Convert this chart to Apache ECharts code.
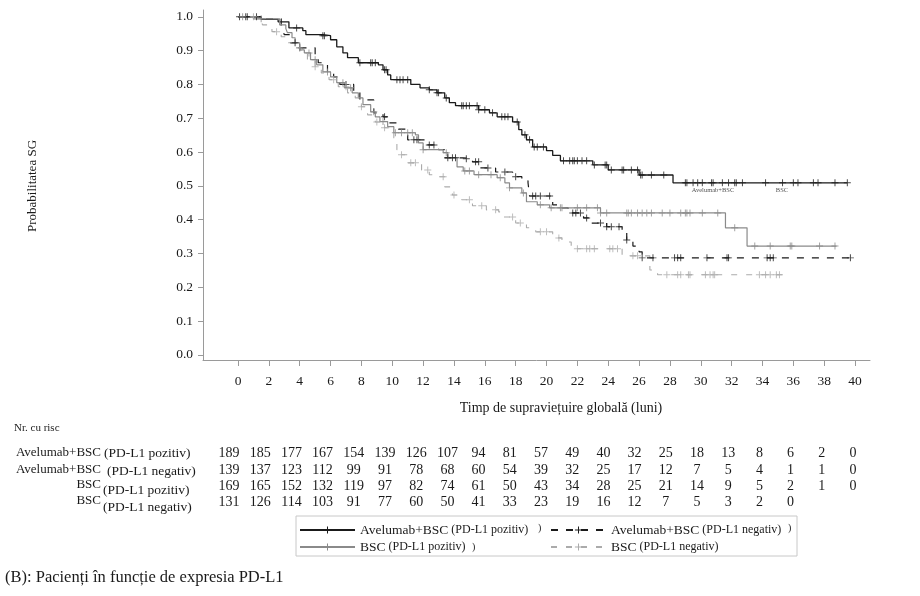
<!DOCTYPE html>
<html>
<head>
<meta charset="utf-8">
<title>SG PD-L1</title>
<script src="https://cdn.jsdelivr.net/npm/echarts@6/dist/echarts.min.js"></script>
<style>
  html, body { margin: 0; padding: 0; background: #fff; }
  #chart { width: 920px; height: 596px; }
</style>
</head>
<body>
<div id="chart"></div>
<script>
// curbe Kaplan-Meier: [luni, probabilitate]
var avelPoz = [[0, 1.0], [1.5, 0.992], [2.6, 0.985], [3.3, 0.967], [4.2, 0.959], [4.4, 0.947], [5.5, 0.944], [6.0, 0.932],
  [6.4, 0.911], [6.8, 0.893], [7.1, 0.879], [7.8, 0.864], [9.1, 0.858], [9.4, 0.843], [9.7, 0.828], [9.9, 0.814],
  [11.2, 0.80], [11.8, 0.79], [12.4, 0.784], [12.9, 0.775], [13.4, 0.76], [13.7, 0.746], [14.1, 0.737], [15.6, 0.725],
  [16.3, 0.716], [16.8, 0.704], [17.8, 0.689], [18.2, 0.666], [18.4, 0.651], [18.7, 0.636], [19.1, 0.615], [20.0, 0.604],
  [20.4, 0.59], [20.9, 0.574], [23.0, 0.562], [24.0, 0.547], [26.0, 0.532], [28.2, 0.509], [39.5, 0.509]];
var avelNeg = [[0, 1.0], [1.5, 0.994], [2.8, 0.975], [2.9, 0.96], [3.0, 0.947], [3.4, 0.923], [3.8, 0.908], [5.0, 0.879],
  [5.2, 0.864], [5.8, 0.837], [6.2, 0.822], [6.6, 0.80], [7.5, 0.778], [7.9, 0.754], [8.8, 0.716], [9.4, 0.704],
  [9.7, 0.686], [10.4, 0.668], [11.0, 0.636], [12.3, 0.621], [13.0, 0.607], [13.4, 0.583], [14.6, 0.58], [15.2, 0.571],
  [15.7, 0.553], [16.7, 0.541], [17.8, 0.527], [18.4, 0.515], [18.8, 0.509], [18.9, 0.47], [20.4, 0.444], [20.8, 0.435],
  [21.4, 0.42], [22.4, 0.405], [22.8, 0.39], [23.9, 0.379], [24.9, 0.361], [25.2, 0.34], [25.6, 0.322], [26.0, 0.305],
  [26.2, 0.287], [39.7, 0.287]];
var bscPoz = [[0, 1.0], [1.0, 0.994], [2.7, 0.976], [3.1, 0.965], [3.2, 0.953], [3.5, 0.938], [3.7, 0.923], [4.0, 0.902],
  [4.3, 0.893], [4.7, 0.873], [5.1, 0.858], [5.5, 0.837], [6.0, 0.822], [6.4, 0.805], [6.9, 0.79], [7.4, 0.775],
  [7.8, 0.76], [8.1, 0.74], [8.6, 0.719], [8.9, 0.704], [9.2, 0.69], [9.7, 0.675], [10.1, 0.657], [11.5, 0.651],
  [11.7, 0.627], [12.0, 0.607], [13.3, 0.598], [13.6, 0.583], [14.2, 0.556], [14.6, 0.544], [15.3, 0.533], [16.8, 0.524],
  [17.3, 0.509], [17.6, 0.494], [18.4, 0.479], [18.7, 0.453], [19.4, 0.444], [20.2, 0.435], [23.5, 0.42], [31.6, 0.376],
  [33.0, 0.322], [38.8, 0.322]];
var bscNeg = [[0, 1.0], [1.5, 0.985], [1.6, 0.976], [2.2, 0.956], [2.8, 0.941], [3.2, 0.923], [3.7, 0.908], [4.1, 0.893],
  [4.5, 0.873], [5.0, 0.852], [5.4, 0.834], [5.9, 0.814], [6.5, 0.793], [7.1, 0.775], [7.6, 0.76], [8.0, 0.734],
  [8.4, 0.71], [8.9, 0.689], [9.5, 0.672], [10.1, 0.642], [10.3, 0.607], [10.5, 0.592], [11.0, 0.568], [11.9, 0.547],
  [12.4, 0.533], [12.8, 0.527], [13.4, 0.497], [13.9, 0.473], [14.5, 0.459], [15.2, 0.441], [16.1, 0.429], [16.9, 0.423],
  [17.2, 0.408], [18.0, 0.39], [18.7, 0.376], [19.3, 0.364], [20.4, 0.346], [21.0, 0.334], [21.6, 0.314], [24.9, 0.293],
  [26.7, 0.251], [27.2, 0.237], [35.3, 0.237]];

// momente cenzurate (luni)
var cenzAvelPoz = [0.1, 0.6, 3.8, 5.5, 5.6, 7.9, 8.6, 8.7, 8.9, 9.5, 9.6, 10.3, 10.5, 10.7, 11.0, 12.4, 12.9, 13.0, 13.5,
  14.5, 14.6, 14.8, 15.0, 15.5, 15.6, 16.0, 16.5, 17.1, 17.3, 17.5, 18.1, 18.6, 18.9, 19.2, 19.4, 19.8, 21.1, 21.5, 21.7,
  21.8, 22.0, 22.3, 22.6, 23.1, 23.8, 23.9, 24.2, 24.9, 25.0, 25.5, 25.9, 26.1, 26.2, 26.8, 27.6, 29.0, 29.1, 29.5, 29.8,
  30.1, 30.7, 30.8, 31.4, 31.8, 32.2, 32.3, 32.7, 34.2, 35.3, 36.0, 36.3, 37.3, 37.6, 38.7, 39.5];
var cenzAvelNeg = [0.5, 1.2, 3.7, 4.0, 7.0, 9.5, 11.4, 11.6, 12.4, 12.7, 13.6, 13.9, 14.1, 14.8, 15.4, 15.6, 16.2, 17.3,
  18.0, 19.1, 19.3, 19.6, 20.2, 21.7, 21.9, 22.2, 22.6, 23.5, 23.9, 24.2, 24.7, 25.2, 26.2, 26.9, 28.3, 28.5, 28.7, 30.4,
  31.7, 31.8, 34.3, 34.5, 34.7, 39.7];
var cenzBscPoz = [0.3, 1.5, 4.6, 5.0, 5.8, 6.8, 7.3, 8.8, 9.4, 10.2, 10.6, 11.0, 11.3, 12.0, 13.5, 14.7, 15.0, 15.6, 16.4,
  17.0, 17.6, 18.5, 19.6, 20.3, 20.9, 21.0, 22.0, 22.6, 23.3, 23.5, 23.9, 25.2, 25.3, 25.5, 25.9, 26.2, 26.5, 26.8, 27.5,
  28.0, 28.7, 29.0, 29.1, 29.3, 30.1, 31.1, 32.2, 33.5, 34.5, 35.8, 35.9, 37.7, 38.7];
var cenzBscNeg = [1.0, 2.5, 4.0, 5.0, 6.2, 7.0, 8.0, 9.0, 9.5, 10.6, 11.2, 11.5, 12.3, 13.3, 14.0, 15.0, 15.8, 16.7, 17.8,
  18.3, 19.6, 20.0, 20.8, 22.0, 22.6, 22.8, 23.1, 24.1, 24.3, 24.6, 25.6, 25.9, 27.8, 28.5, 28.7, 29.2, 29.3, 30.3, 30.6,
  30.8, 30.9, 33.8, 34.2, 34.5, 34.9, 35.1];

var xTicks = [0, 2, 4, 6, 8, 10, 12, 14, 16, 18, 20, 22, 24, 26, 28, 30, 32, 34, 36, 38, 40];
var yTicks = [0.0, 0.1, 0.2, 0.3, 0.4, 0.5, 0.6, 0.7, 0.8, 0.9, 1.0];

var numeSerii = ['Avelumab+BSC (PD-L1 pozitiv)', 'Avelumab+BSC (PD-L1 negativ)', 'BSC (PD-L1 pozitiv)', 'BSC (PD-L1 negativ)'];

// Nr. cu risc
var riscAvelPoz = [189, 185, 177, 167, 154, 139, 126, 107, 94, 81, 57, 49, 40, 32, 25, 18, 13, 8, 6, 2, 0];
var riscAvelNeg = [139, 137, 123, 112, 99, 91, 78, 68, 60, 54, 39, 32, 25, 17, 12, 7, 5, 4, 1, 1, 0];
var riscBscPoz = [169, 165, 152, 132, 119, 97, 82, 74, 61, 50, 43, 34, 28, 25, 21, 14, 9, 5, 2, 1, 0];
var riscBscNeg = [131, 126, 114, 103, 91, 77, 60, 50, 41, 33, 23, 19, 16, 12, 7, 5, 3, 2, 0];

var FONT = "'Liberation Serif', 'DejaVu Serif', serif";
var TXT = '#1a1a1a';
var PLUS = 'path://M4.3,0H5.7V10H4.3ZM0,4.3H10V5.7H0Z';

function valoareLa(curba, t) {
  var v = curba[0][1];
  for (var i = 0; i < curba.length; i++) {
    if (curba[i][0] <= t) v = curba[i][1];
  }
  return v;
}

function cenzuri(curba, timpi) {
  return timpi.map(function (t) { return [t, valoareLa(curba, t)]; });
}

function linie(nume, curba, culoare, latime, tip) {
  return {
    name: nume, type: 'line', step: 'end', data: curba,
    symbol: PLUS, symbolSize: 8, showSymbol: false,
    itemStyle: {color: culoare},
    lineStyle: {color: culoare, width: latime, type: tip},
    silent: true, z: 2
  };
}

function marcaje(curba, timpi, culoare) {
  return {
    type: 'scatter', data: cenzuri(curba, timpi),
    symbol: PLUS, symbolSize: 7,
    itemStyle: {color: culoare}, silent: true, z: 3
  };
}

var graphics = [];
function text(x, y, s, size, align, extra) {
  var st = {x: x, y: y, text: s, fontSize: size, fontFamily: FONT, fill: TXT, align: align || 'left', verticalAlign: 'middle'};
  if (extra) for (var k in extra) st[k] = extra[k];
  graphics.push({type: 'text', style: st, silent: true});
}

// titluri axe
graphics.push({type: 'text', x: 33, y: 186, rotation: Math.PI / 2,
  style: {text: 'Probabilitatea SG', fontSize: 13, fontFamily: FONT, fill: TXT, align: 'center', verticalAlign: 'middle'}});
text(561, 408, 'Timp de supraviețuire globală (luni)', 14, 'center');
// etichete mici ramase pe grafic
text(713, 190, 'Avelumab+BSC', 6.5, 'center', {fill: '#555'});
text(782, 190, 'BSC', 6.5, 'center', {fill: '#555'});

// tabel Nr. cu risc
text(14, 428, 'Nr. cu risc', 11, 'left');
var randuri = [
  {a: 'Avelumab+BSC', b: '(PD-L1 pozitiv)', ya: 453, yb: 453, xa: 101, xb: 104, v: riscAvelPoz, y: 453},
  {a: 'Avelumab+BSC', b: '(PD-L1 negativ)', ya: 470, yb: 471, xa: 101, xb: 107, v: riscAvelNeg, y: 470},
  {a: 'BSC', b: '(PD-L1 pozitiv)', ya: 485, yb: 490, xa: 101, xb: 103, v: riscBscPoz, y: 486},
  {a: 'BSC', b: '(PD-L1 negativ)', ya: 501, yb: 507, xa: 101, xb: 103, v: riscBscNeg, y: 502}
];
randuri.forEach(function (r) {
  text(r.xa, r.ya, r.a, 13, 'right');
  text(r.xb, r.yb, r.b, 13.5, 'left');
  r.v.forEach(function (n, i) {
    text(229 + i * 31.2, r.y, String(n), 14, 'center');
  });
});

// chenar legenda
graphics.push({type: 'rect', shape: {x: 296, y: 516, width: 501, height: 40},
  style: {fill: 'none', stroke: '#c8c8c8', lineWidth: 1}, silent: true});
text(538, 528, ')', 10, 'left');
text(788, 528, ')', 10, 'left');
text(472, 547, ')', 10, 'left');

// titlu figura
text(5, 578, '(B): Pacienți în funcție de expresia PD-L1', 16.5, 'left');

function formatLegenda(name) {
  var i = name.indexOf(' (');
  return '{a|' + name.substring(0, i) + '} {b|' + name.substring(i + 1) + '}';
}
var legendaText = {
  color: TXT, fontFamily: FONT,
  rich: {
    a: {fontSize: 13.5, fontFamily: FONT, color: TXT},
    b: {fontSize: 12, fontFamily: FONT, color: TXT}
  }
};

var option = {
  animation: false,
  backgroundColor: '#fff',
  grid: {left: 203, top: 10, width: 667, height: 350},
  legend: [
    {data: [numeSerii[0], numeSerii[2]], orient: 'vertical', left: 294, top: 518, itemWidth: 55, itemHeight: 9, itemGap: 3,
      selectedMode: false, formatter: formatLegenda, textStyle: legendaText},
    {data: [numeSerii[1], numeSerii[3]], orient: 'vertical', left: 545, top: 518, itemWidth: 55, itemHeight: 9, itemGap: 3,
      selectedMode: false, formatter: formatLegenda, textStyle: legendaText}
  ],
  xAxis: {
    type: 'value', min: -2.27, max: 40.97,
    axisLine: {show: true, onZero: false, lineStyle: {color: '#9a9a9a', width: 1}},
    axisTick: {show: true, customValues: xTicks, length: 6, lineStyle: {color: '#9a9a9a'}},
    axisLabel: {customValues: xTicks, margin: 14, fontSize: 13.5, fontFamily: FONT, color: TXT},
    splitLine: {show: false}
  },
  yAxis: {
    type: 'value', min: -0.015, max: 1.02,
    axisLine: {show: true, onZero: false, lineStyle: {color: '#9a9a9a', width: 1}},
    axisTick: {show: true, customValues: yTicks, length: 5, lineStyle: {color: '#9a9a9a'}},
    axisLabel: {customValues: yTicks, margin: 10, fontSize: 13.5, fontFamily: FONT, color: TXT,
      formatter: function (v) { return v.toFixed(1); }},
    splitLine: {show: false}
  },
  graphic: graphics,
  series: [
    linie(numeSerii[0], avelPoz, '#1a1a1a', 1.3, 'solid'),
    linie(numeSerii[1], avelNeg, '#1a1a1a', 1.2, [7, 8]),
    linie(numeSerii[2], bscPoz, '#8a8a8a', 1.2, 'solid'),
    linie(numeSerii[3], bscNeg, '#ababab', 1.1, [6, 9]),
    marcaje(avelPoz, cenzAvelPoz, '#1a1a1a'),
    marcaje(avelNeg, cenzAvelNeg, '#1a1a1a'),
    marcaje(bscPoz, cenzBscPoz, '#8a8a8a'),
    marcaje(bscNeg, cenzBscNeg, '#ababab')
  ]
};

var chart = echarts.init(document.getElementById('chart'));
chart.setOption(option);
</script>
</body>
</html>
